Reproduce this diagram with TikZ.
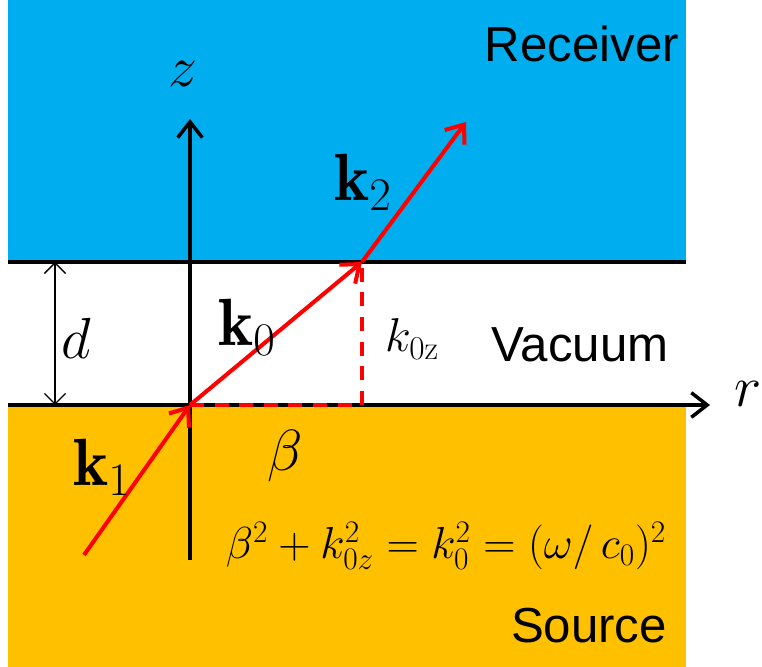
\documentclass[tikz,border=0pt]{standalone}
\usepackage{fix-cm}
\usepackage{fontspec}
\newfontfamily\labelfont{Liberation Sans}
\usetikzlibrary{arrows.meta}
\definecolor{receiverblue}{HTML}{00AEEF}
\definecolor{sourceorange}{HTML}{FFC000}
\begin{document}
\begin{tikzpicture}[>={Straight Barb[length=9pt,width=14pt]}, line join=round,
	ray/.style={red,line width=2.3pt,->},
	medium/.style={font=\labelfont\fontsize{28}{32}\selectfont},
	sym/.style={font=\fontsize{33}{38}\selectfont},
	vec/.style={font=\fontsize{38}{42}\selectfont}]
	\useasboundingbox (-3.8,-5.24) rectangle (11.44,8.1);
	\fill[receiverblue] (-3.64,2.86) rectangle (9.92,8.1);
	\fill[sourceorange] (-3.64,-5.24) rectangle (9.92,0);
	\draw[line width=2.3pt] (-3.64,2.86)--(9.92,2.86);
	% axes
	\coordinate (O) at (0,0);
	\coordinate (rend) at (10.4,0);
	\coordinate (zbot) at (0,-3.1);
	\coordinate (ztop) at (0,5.72);
	\draw[line width=2pt,->] (-3.64,0)--(rend);
	\draw[line width=2pt,->] (zbot)--(ztop);
	\node[sym] (zlab) at (-0.14,6.62) {$z$};
	\node[sym] (rlab) at (11.16,0.22) {$r$};
	% gap
	\coordinate (dtop) at (-2.7,2.86);
	\coordinate (dbot) at (-2.7,0);
	\draw[line width=0.8pt,<->,>={Straight Barb[length=6pt,width=12pt]}] (dbot)--(dtop);
	\node[sym] (dlab) at (-2.28,1.34) {$d$};
	% wave vectors
	\coordinate (A) at (-2.12,-3.0);
	\coordinate (B) at (3.44,2.86);
	\coordinate (C) at (5.52,5.66);
	\coordinate (F) at (3.44,0);
	\draw[red,line width=1.8pt,dash pattern=on 8pt off 6pt] (O)--(F)--(B);
	\draw[ray] (A)--(O);
	\draw[ray] (O)--(B);
	\draw[ray] (B)--(C);
	\node[vec] (kone) at (-1.76,-1.24) {$\mathbf{k}_1$};
	\node[vec] (kzero) at (1.14,1.55) {$\mathbf{k}_0$};
	\node[vec] (ktwo) at (3.46,4.46) {$\mathbf{k}_2$};
	\node[sym,font=\fontsize{27}{30}\selectfont] (kzz) at (4.44,1.32) {$k_{0\mathrm{z}}$};
	\node[sym] (beta) at (1.9,-1.02) {$\beta$};
	\node[sym,font=\fontsize{25.5}{30}\selectfont] (eqn) at (5.12,-2.82) {$\beta^2+k_{0z}^2=k_0^2=(\omega/\,c_0)^2$};
	% media
	\node[medium] (rec) at (7.84,7.22) {Receiver};
	\node[medium] (vac) at (7.8,1.2) {Vacuum};
	\node[medium] (src) at (7.98,-4.42) {Source};
\end{tikzpicture}
\end{document}
